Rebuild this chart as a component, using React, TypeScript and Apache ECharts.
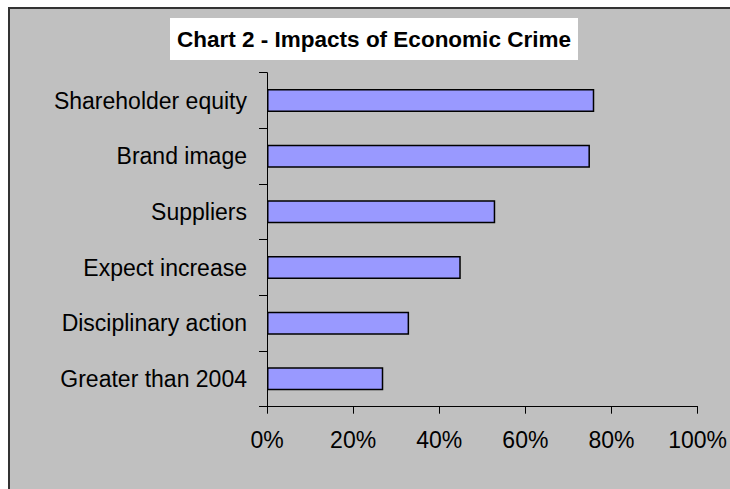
import React, { useEffect, useRef } from "react";
import * as echarts from "echarts";

const categories = [
  "Shareholder equity",
  "Brand image",
  "Suppliers",
  "Expect increase",
  "Disciplinary action",
  "Greater than 2004",
];
const values = [76, 75, 53, 45, 33, 27];
const titleText = "Chart 2 - Impacts of Economic Crime";

const FONT = "'Liberation Sans', Arial, sans-serif";

export default function App() {
  const ref = useRef<HTMLDivElement>(null);
  useEffect(() => {
    if (!ref.current) return;
    const chart = echarts.init(ref.current, null, { renderer: "svg" });
    chart.setOption({
      animation: false,
      backgroundColor: "#ffffff",
      graphic: [
        {
          type: "rect",
          z: -10,
          silent: true,
          shape: { x: 9, y: 8, width: 740, height: 500 },
          style: { fill: "#C0C0C0", stroke: "#333333", lineWidth: 2 },
        },
        {
          type: "rect",
          z: -5,
          silent: true,
          shape: { x: 170, y: 18, width: 408, height: 42 },
          style: { fill: "#ffffff" },
        },
        {
          type: "text",
          x: 374,
          y: 39,
          style: {
            text: titleText,
            fill: "#000",
            font: `bold 22.5px ${FONT}`,
            align: "center",
            verticalAlign: "middle",
          },
        },
      ],
      grid: { left: 267, right: 31, top: 72.7, bottom: 82.3, containLabel: false },
      xAxis: {
        type: "value",
        min: 0,
        max: 100,
        interval: 20,
        axisLine: { show: true, lineStyle: { color: "#000", width: 1 } },
        axisTick: { show: true, length: 7, inside: false, lineStyle: { color: "#000" } },
        splitLine: { show: false },
        axisLabel: {
          formatter: "{value}%",
          color: "#000",
          fontSize: 23,
          fontFamily: FONT,
          margin: 22,
        },
      },
      yAxis: {
        type: "category",
        data: categories,
        inverse: true,
        axisLine: { show: true, lineStyle: { color: "#000", width: 1 } },
        axisTick: { show: true, length: 8, lineStyle: { color: "#000" } },
        axisLabel: {
          color: "#000",
          fontSize: 23,
          fontFamily: FONT,
          margin: 20,
        },
      },
      series: [
        {
          type: "bar",
          data: values,
          barWidth: 23,
          itemStyle: { color: "#9999FF", borderColor: "#000", borderWidth: 1.5 },
        },
      ],
    });
    return () => chart.dispose();
  }, []);
  return (
    <div
      ref={ref}
      style={{ position: "fixed", left: 0, top: 0, width: 730, height: 489 }}
    />
  );
}
